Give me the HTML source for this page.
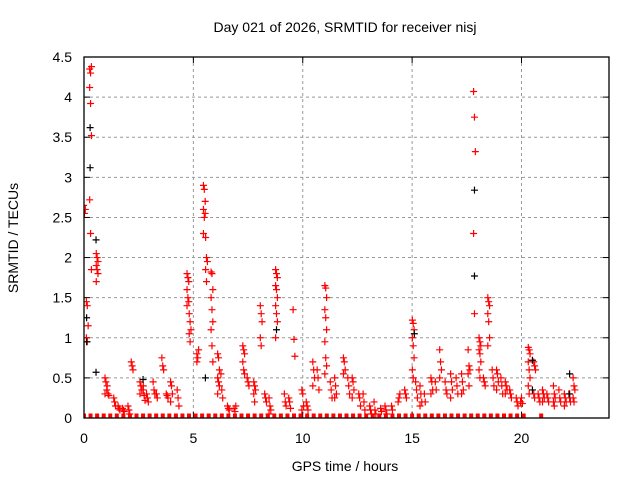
<!DOCTYPE html>
<html><head><meta charset="utf-8"><style>
body{margin:0;background:#fff}
svg{display:block;font-family:"Liberation Sans",sans-serif}
</style></head><body>
<svg id="chart" width="640" height="480">
<text x="345" y="32" text-anchor="middle" font-size="14">Day 021 of 2026, SRMTID for receiver nisj</text>
<text x="345" y="471" text-anchor="middle" font-size="14">GPS time / hours</text>
<text transform="translate(18,238) rotate(-90)" text-anchor="middle" font-size="14">SRMTID / TECUs</text>
<g id="grid"></g><g id="ticks"></g>
<defs><clipPath id="pc"><rect x="84" y="57" width="525" height="361"/></clipPath></defs>
<g id="marks" clip-path="url(#pc)"></g>
<rect x="84" y="57" width="525" height="361" fill="none" stroke="#000" stroke-width="1.3"/>
</svg>
<script>
const xTicks=[0,5,10,15,20];
const yTicks=[0,0.5,1,1.5,2,2.5,3,3.5,4,4.5];
const yTickLabels=["0","0.5","1","1.5","2","2.5","3","3.5","4","4.5"];
const redGroups=[
[0.02,[2.65,2.55,2.6]],[0.15,[1.45,1.4,1.15,1.0,0.95]],
[0.3,[4.35,4.3,4.38,4.12,3.92,3.52,2.72,2.3,1.85]],
[0.6,[2.05,2.0,1.95,1.9,1.85,1.8,1.7]],[1.0,[0.5,0.45,0.35,0.3]],[1.1,[0.4,0.3,0.28]],
[1.4,[0.25,0.2,0.15]],[1.6,[0.15,0.12,0.1]],[1.8,[0.12,0.1,0.08]],[2.05,[0.15,0.1,0.05]],[2.2,[0.7,0.65,0.6]],
[2.6,[0.45,0.4,0.35,0.3]],[2.75,[0.35,0.28,0.22,0.4]],[2.9,[0.3,0.25,0.2]],[3.2,[0.45,0.35,0.3]],[3.35,[0.3,0.25]],
[3.6,[0.75,0.65,0.6]],[3.8,[0.3,0.28,0.25]],[4.0,[0.45,0.4,0.3,0.2]],[4.3,[0.35,0.25,0.15]],
[4.75,[1.8,1.75,1.7,1.6,1.5,1.45,1.4]],[4.85,[1.3,1.2,1.1,1.05,0.95]],
[5.2,[0.8,0.75,0.85,0.7]],[5.5,[2.9,2.85,2.7,2.6,2.5,2.55,2.3]],[5.6,[2.25,2.0,1.95,1.85,1.7]],
[5.85,[1.82,1.8,1.6,1.5,1.35,1.2,1.1,0.9,0.7]],[6.15,[0.8,0.75,0.6,0.5,0.45,0.4,0.3]],[6.3,[0.55,0.35,0.25]],
[6.6,[0.15,0.12,0.1]],[6.9,[0.12,0.08,0.15]],[7.3,[0.9,0.85,0.8,0.7,0.6,0.55]],[7.5,[0.5,0.45,0.4]],
[7.8,[0.45,0.4,0.35,0.3,0.2]],[8.1,[1.4,1.3,1.2,1.0,0.9]],[8.3,[0.3,0.25,0.2]],[8.5,[0.25,0.15,0.1,0.05]],
[8.8,[1.85,1.8,1.75,1.65,1.6,1.5,1.4,1.3,1.2,1.0]],[9.2,[0.3,0.2,0.15]],[9.4,[0.25,0.2,0.12]],
[9.6,[1.35,0.98,0.77]],[10.0,[0.35,0.3,0.15,0.1]],[10.2,[0.2,0.15,0.1]],[10.5,[0.7,0.6,0.5,0.4]],[10.7,[0.6,0.5,0.35]],
[11.05,[1.65,1.62,1.5,1.35,1.25,1.1,0.95,0.75,0.65,0.55]],[11.3,[0.45,0.35,0.25]],[11.5,[0.5,0.4,0.3,0.25]],
[11.9,[0.75,0.7,0.6,0.55]],[12.1,[0.5,0.4,0.3]],[12.3,[0.5,0.45,0.35,0.25]],[12.6,[0.3,0.25,0.15]],[12.8,[0.3,0.2,0.1]],
[13.1,[0.15,0.1,0.05]],[13.3,[0.2,0.1,0.05]],[13.6,[0.12,0.08]],[13.8,[0.15,0.1,0.05]],[14.1,[0.15,0.1]],[14.4,[0.2,0.25,0.3]],[14.7,[0.35,0.3,0.25]],
[15.05,[1.22,1.18,1.1,1.0,0.9,0.75,0.6,0.5]],[15.2,[0.45,0.35,0.25]],[15.4,[0.4,0.3,0.2,0.15]],[15.6,[0.3,0.2]],
[15.9,[0.5,0.45,0.35,0.3]],[16.1,[0.45,0.35]],[16.3,[0.85,0.7,0.6,0.5]],[16.55,[0.45,0.35,0.3]],[16.8,[0.55,0.45,0.35,0.25]],[17.05,[0.5,0.4,0.3]],
[17.3,[0.55,0.45,0.35,0.3]],[17.6,[0.85,0.65,0.6,0.55,0.4]],
[17.85,[4.07,3.75,3.32,2.3,1.3]],[18.1,[1.0,0.95,0.9,0.85,0.8,0.7,0.6,0.5]],[18.3,[0.5,0.45,0.4]],
[18.5,[1.5,1.45,1.4,1.3,1.2,1.0,0.9]],[18.7,[0.6,0.5,0.4]],[18.9,[0.6,0.55,0.45,0.35]],
[19.1,[0.5,0.4,0.3]],[19.3,[0.45,0.4,0.35,0.3]],[19.5,[0.35,0.3,0.25]],[19.8,[0.25,0.2,0.15]],[20.0,[0.2,0.25,0.18]],
[20.35,[0.88,0.85,0.8,0.7,0.6,0.5,0.4,0.3]],[20.6,[0.7,0.65,0.6,0.3,0.25]],[20.8,[0.3,0.25,0.2]],
[21.0,[0.35,0.3,0.25,0.2]],[21.2,[0.3,0.25,0.2]],[21.5,[0.4,0.3,0.25,0.2,0.15]],[21.75,[0.35,0.25,0.2]],[22.0,[0.3,0.25,0.2,0.15]],[22.2,[0.3,0.25,0.2]],
[22.4,[0.5,0.4,0.35,0.25,0.2]]
];
const blackGroups=[
[0.12,[1.25,0.95]],[0.28,[3.62,3.12]],[0.55,[2.22,0.57]],[5.55,[0.5]],[8.8,[1.1]],
[17.85,[2.84,1.77]],[15.1,[1.05]],[20.5,[0.72,0.35]],[22.2,[0.55,0.3]],[2.7,[0.48]]
];
const zeroTimes=[0,0.3,0.6,0.9,1.2,1.5,1.8,2.1,2.4,2.7,3.0,3.3,3.6,3.9,4.2,4.5,4.8,5.1,5.4,5.7,6.0,6.3,6.6,6.9,7.2,7.5,7.8,8.1,8.4,8.7,9.0,9.3,9.6,9.9,10.2,10.5,10.8,11.1,11.4,11.7,12.0,12.3,12.6,12.9,13.2,13.5,13.8,14.1,14.4,14.7,15.0,15.3,15.6,15.9,16.2,16.5,16.8,17.1,17.4,17.7,18.0,18.3,18.6,18.9,19.2,19.5,19.8,20.1,20.9];
const X=t=>84+t*525/24, Y=v=>418-v*361/4.5;
const NS="http://www.w3.org/2000/svg";
function mk(tag,attrs,parent){const e=document.createElementNS(NS,tag);for(const k in attrs)e.setAttribute(k,attrs[k]);parent.appendChild(e);return e;}
const grid=document.getElementById('grid'),ticks=document.getElementById('ticks'),marks=document.getElementById('marks');
xTicks.forEach(t=>{const x=X(t);
 if(t>0){const g=mk('line',{x1:x,x2:x,y1:57,y2:418,stroke:'#999','stroke-dasharray':'3,3'},grid);
 
 }
 mk('line',{x1:x,x2:x,y1:418,y2:412,stroke:'#000'},ticks);mk('line',{x1:x,x2:x,y1:57,y2:63,stroke:'#000'},ticks);
 const l=mk('text',{x:x,y:443,'text-anchor':'middle','font-size':'14'},ticks);l.textContent=t;
 
 });
yTicks.forEach((v,i)=>{const y=Y(v);
 if(v>0&&v<4.5){const g=mk('line',{x1:84,x2:609,y1:y,y2:y,stroke:'#999','stroke-dasharray':'3,3'},grid);
 
 }
 mk('line',{x1:84,x2:90,y1:y,y2:y,stroke:'#000'},ticks);mk('line',{x1:603,x2:609,y1:y,y2:y,stroke:'#000'},ticks);
 const l=mk('text',{x:72,y:y+5,'text-anchor':'end','font-size':'14'},ticks);l.textContent=yTickLabels[i];
 
 });
function plus(t,v,c,name){const x=X(t),y=Y(v);
 const p=mk('path',{d:`M${x-3.5},${y}H${x+3.5}M${x},${y-3.5}V${y+3.5}`,stroke:c,'stroke-width':'1.2',fill:'none'},marks);
 
 }
redGroups.forEach(([t,vs])=>vs.forEach((v,j)=>plus(t+(j%3-1)*0.04,v,'#f00','red-point')));
zeroTimes.forEach(t=>{const r=mk('rect',{x:X(t)-2,y:Y(0)-4.5,width:4,height:4.5,fill:'#f00'},marks);
 
 });
blackGroups.forEach(([t,vs])=>vs.forEach(v=>plus(t,v,'#000','black-point')));
</script>
</body></html>
